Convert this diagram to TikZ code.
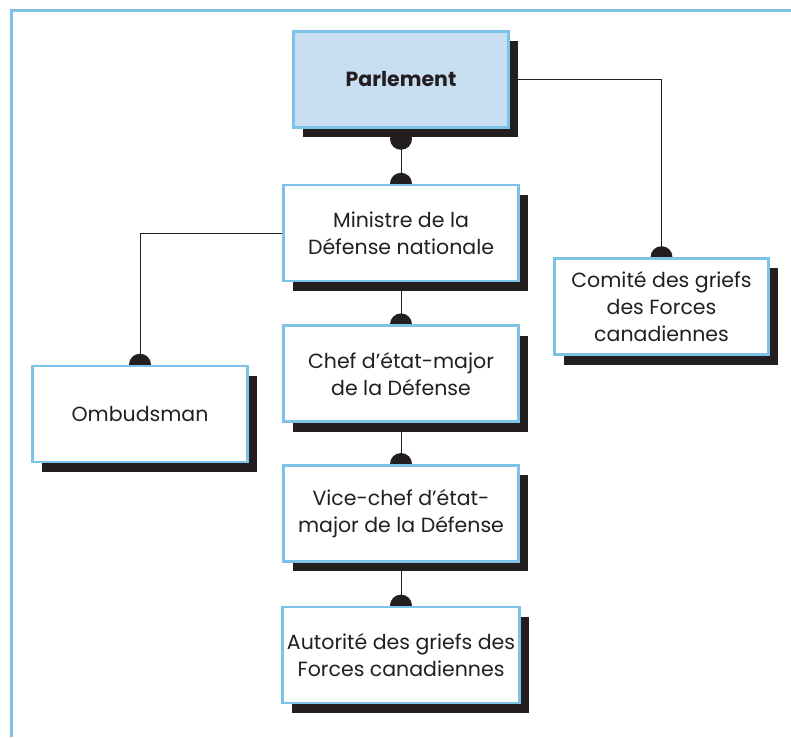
\documentclass[tikz,border=0pt]{standalone}
\usepackage{fontspec}
\setmainfont{Poppins}
\usetikzlibrary{positioning,calc,shadows,backgrounds}
\newcommand{\boxfont}{\fontsize{20.5}{27}\selectfont}
\tikzset{
  every picture/.append style={line width=0.6pt},
}
\tikzset{
  box/.style={draw=frameblue, fill=white, line width=2.6pt, align=center, inner sep=2pt,
    minimum width=215pt, minimum height=96pt, text=inkgray, font=\boxfont,
    drop shadow={shadow xshift=9pt, shadow yshift=-10pt, fill=inkgray, opacity=1}},
  link/.style={draw=inkgray, line width=1pt},
  knob/.style={fill=inkgray}
}

\begin{document}
\begin{tikzpicture}[
    x=1pt, y=1pt,
    node distance=42pt,
    unit/.style={box, minimum width=235pt}
]
% Color definitions
\definecolor{frameblue}{RGB}{125,194,232}
\definecolor{parlfill}{RGB}{200,223,242}
\definecolor{inkgray}{RGB}{35,31,32}

\useasboundingbox (0,0) rectangle (791,737);

% Outer frame
\draw[frameblue, line width=3pt] (11,0) -- (11,726) -- (791,726);

% Boxes
\node[box, fill=parlfill, font=\boxfont\bfseries] (parl) at (401,657.5) {Parlement};
\node[unit, below=55pt of parl] (min) {Ministre de la\\Défense nationale};
\node[unit, below=of min] (cemd) {Chef d’état-major\\de la Défense};
\node[unit, below=41pt of cemd] (vcemd) {Vice-chef d’état-\\major de la Défense};
\node[unit, below=43pt of vcemd, minimum width=237pt] (agfc) {Autorité des griefs des\\Forces canadiennes};
\node[box, minimum width=214pt] (cgfc) at (661.5,430.5) {Comité des griefs\\des Forces\\canadiennes};
\node[box] (omb) at (140,323) {Ombudsman};

% Links and knobs
\begin{scope}[on background layer]
\draw[link] (parl.south) -- (min.north);
\draw[link] (min.south) -- (cemd.north);
\draw[link] (cemd.south) -- (vcemd.north);
\draw[link] (vcemd.south) -- (agfc.north);
\draw[link] (parl.east) -| (cgfc.north);
\draw[link] (min.west) -| (omb.north);
\fill[knob] ($(parl.south)+(0,-10)$) circle (11pt);
\foreach \n in {min,cemd,vcemd,agfc,cgfc,omb}
  \fill[knob] (\n.north) circle (11pt);
\end{scope}
\end{tikzpicture}
\end{document}
